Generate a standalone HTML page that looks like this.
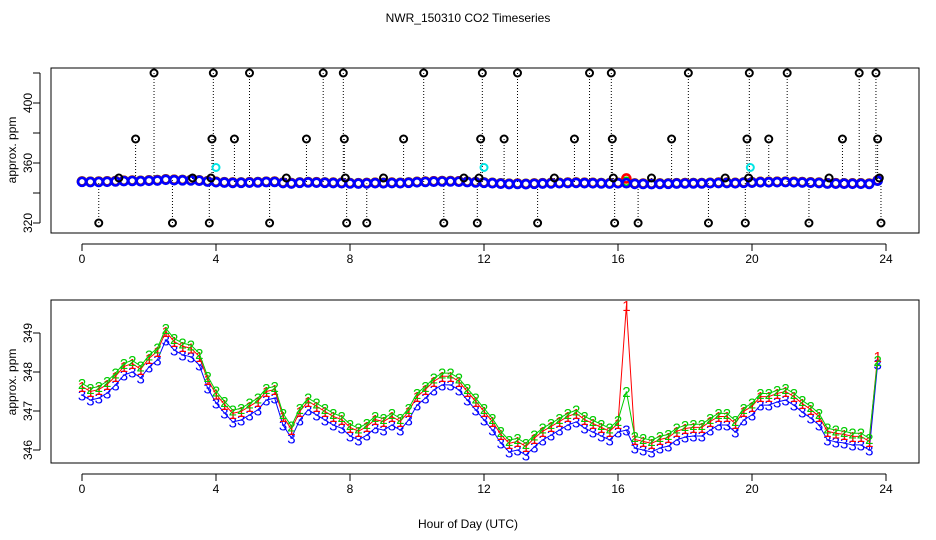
<!DOCTYPE html>
<html><head><meta charset="utf-8"><style>
body{margin:0;background:#fff}
svg{display:block;font-family:"Liberation Sans",sans-serif}
</style></head><body>
<svg id="c" width="936" height="540" viewBox="0 0 936 540">
<text x="468" y="22" text-anchor="middle" font-size="12">NWR_150310  CO2 Timeseries</text>
<text x="468" y="528" text-anchor="middle" font-size="12">Hour of Day (UTC)</text>
<g id="topPanel"></g>
<g id="botPanel"></g>
</svg>
<script>
const xTicks=[0,4,8,12,16,20,24];
const topYTicks=[320,340,360,380,400,420];
const topYLabels=[320,360,400];
const botYTicks=[346,347,348,349];
const s3=[347.41,347.28,347.33,347.46,347.67,347.92,348.0,347.85,348.13,348.31,348.82,348.56,348.44,348.39,348.18,347.59,347.21,346.95,346.72,346.77,346.9,347.03,347.28,347.33,346.64,346.31,346.77,347.03,346.9,346.77,346.64,346.56,346.36,346.26,346.38,346.56,346.51,346.64,346.51,346.77,347.15,347.33,347.54,347.67,347.67,347.54,347.28,347.03,346.77,346.51,346.18,345.95,346.0,345.87,346.08,346.26,346.38,346.51,346.64,346.72,346.56,346.46,346.36,346.26,346.46,346.51,346.05,346.0,345.95,346.05,346.1,346.26,346.33,346.36,346.36,346.51,346.64,346.64,346.46,346.77,346.9,347.15,347.15,347.23,347.28,347.15,346.97,346.82,346.64,346.26,346.21,346.18,346.13,346.13,346.0,348.2];
const s2=[347.71,347.58,347.63,347.76,347.97,348.22,348.30,348.15,348.43,348.61,349.12,348.86,348.74,348.69,348.48,347.89,347.51,347.25,347.02,347.07,347.20,347.33,347.58,347.63,346.94,346.61,347.07,347.33,347.20,347.07,346.94,346.86,346.66,346.56,346.68,346.86,346.81,346.94,346.81,347.07,347.45,347.63,347.84,347.97,347.97,347.84,347.58,347.33,347.07,346.81,346.48,346.25,346.30,346.17,346.38,346.56,346.68,346.81,346.94,347.02,346.86,346.76,346.66,346.56,346.76,347.50,346.35,346.30,346.25,346.35,346.40,346.56,346.63,346.66,346.66,346.81,346.94,346.94,346.76,347.07,347.20,347.45,347.45,347.53,347.58,347.45,347.27,347.12,346.94,346.56,346.51,346.48,346.43,346.43,346.30,348.30];
const s1=[347.63,347.50,347.55,347.68,347.89,348.14,348.22,348.07,348.35,348.53,349.04,348.78,348.66,348.61,348.40,347.81,347.43,347.17,346.94,346.99,347.12,347.25,347.50,347.55,346.86,346.53,346.99,347.25,347.12,346.99,346.86,346.78,346.58,346.48,346.60,346.78,346.73,346.86,346.73,346.99,347.37,347.55,347.76,347.89,347.89,347.76,347.50,347.25,346.99,346.73,346.40,346.17,346.22,346.09,346.30,346.48,346.60,346.73,346.86,346.94,346.78,346.68,346.58,346.48,346.68,349.70,346.27,346.22,346.17,346.27,346.32,346.48,346.55,346.58,346.58,346.73,346.86,346.86,346.68,346.99,347.12,347.37,347.37,347.45,347.50,347.37,347.19,347.04,346.86,346.48,346.43,346.40,346.35,346.35,346.22,348.40];
const outT=[0.5,1.1,1.6,2.15,2.7,3.3,3.8,3.85,3.88,3.92,4.55,5.0,5.6,6.1,6.7,7.2,7.8,7.83,7.86,7.9,8.5,9.0,9.6,10.2,10.8,11.4,11.8,11.85,11.9,11.95,12.6,13.0,13.6,14.1,14.7,15.15,15.8,15.83,15.86,15.9,16.6,17.0,17.6,18.1,18.7,19.2,19.8,19.85,19.9,19.92,20.5,21.05,21.7,22.3,22.7,23.2,23.7,23.75,23.8,23.85];
const outV=[320,350,376,420,320,350,320,350,376,420,376,420,320,350,376,420,420,376,350,320,320,350,376,420,320,350,320,350,376,420,376,420,320,350,376,420,420,376,350,320,320,350,376,420,320,350,320,376,350,420,376,420,320,350,376,420,420,376,350,320];
const cyanT=[4.0,12.0,19.95];
const cyanV=[357,357,357];

const NS="http://www.w3.org/2000/svg";
function mk(tag,attrs,parent){const e=document.createElementNS(NS,tag);for(const k in attrs)e.setAttribute(k,attrs[k]);parent.appendChild(e);return e;}
const X=t=>82+t*33.5;
const tY=v=>223-(v-320)*1.5;
const bY=v=>333-(v-349)*39;
const times=s3.map((_,i)=>i*0.25);
const gTop=document.getElementById('topPanel'),gBot=document.getElementById('botPanel');

function frame(g,y0,y1,labelY,name){
  const r=mk('rect',{x:51,y:y0,width:868,height:y1-y0,fill:'none',stroke:'#000','stroke-width':1},g);
  
  
  mk('line',{x1:X(0),x2:X(24),y1:y1+11,y2:y1+11,stroke:'#000'},g);
  xTicks.forEach(t=>{
    mk('line',{x1:X(t),x2:X(t),y1:y1+11,y2:y1+18,stroke:'#000'},g);
    const tx=mk('text',{x:X(t),y:y1+30,'text-anchor':'middle','font-size':12},g);
    tx.textContent=t;
    
    
  });
  const yl=mk('text',{x:0,y:0,'text-anchor':'middle','font-size':12,transform:`translate(16,${labelY}) rotate(-90)`},g);
  yl.textContent='approx. ppm';
  
  
}
frame(gTop,68,233,150,'top');
mk('line',{x1:40,x2:40,y1:tY(320),y2:tY(420),stroke:'#000'},gTop);
topYTicks.forEach(v=>mk('line',{x1:33,x2:40,y1:tY(v),y2:tY(v),stroke:'#000'},gTop));
topYLabels.forEach(v=>{
  const tx=mk('text',{x:0,y:0,'text-anchor':'middle','font-size':12,transform:`translate(32,${tY(v)}) rotate(-90)`},gTop);
  tx.textContent=v;
  
  
});
outT.forEach((t,i)=>{
  const b=s3[Math.min(95,Math.round(t/0.25))];
  mk('line',{x1:X(t),x2:X(t),y1:tY(outV[i]),y2:tY(b),stroke:'#000','stroke-dasharray':'1,2'},gTop);
});
[[s2,'#00dd00','2'],[s1,'#ff0000','1'],[s3,'#0000ff','3']].forEach(([s,c,lab])=>{
  s.forEach((v,i)=>{
    const e=mk('circle',{cx:X(times[i]),cy:tY(v),r:4,fill:'none',stroke:c,'stroke-width':2.6},gTop);
    
    
  });
});
outT.forEach((t,i)=>{
  const e=mk('circle',{cx:X(t),cy:tY(outV[i]),r:3.5,fill:'none',stroke:'#000','stroke-width':2},gTop);
  
  
});
cyanT.forEach((t,i)=>{
  const e=mk('circle',{cx:X(t),cy:tY(cyanV[i]),r:3.5,fill:'none',stroke:'#00e5e5','stroke-width':2},gTop);
  
  
});
frame(gBot,300,463,382,'bottom');
mk('line',{x1:40,x2:40,y1:bY(346),y2:bY(349),stroke:'#000'},gBot);
botYTicks.forEach(v=>{
  mk('line',{x1:33,x2:40,y1:bY(v),y2:bY(v),stroke:'#000'},gBot);
  const tx=mk('text',{x:0,y:0,'text-anchor':'middle','font-size':12,transform:`translate(32,${bY(v)}) rotate(-90)`},gBot);
  tx.textContent=v;
  
  
});
[[s3,'#0000ff','3'],[s1,'#ff0000','1'],[s2,'#00cc00','2']].forEach(([s,c,lab])=>{
  const p=mk('polyline',{points:s.map((v,i)=>X(times[i])+','+bY(v)).join(' '),fill:'none',stroke:c,'stroke-width':1},gBot);
  
  
  s.forEach((v,i)=>{
    const tx=mk('text',{x:X(times[i]),y:bY(v)+5.5,'text-anchor':'middle','font-size':15,fill:c},gBot);
    tx.textContent=lab;
    
    
  });
});
</script>
</body></html>
